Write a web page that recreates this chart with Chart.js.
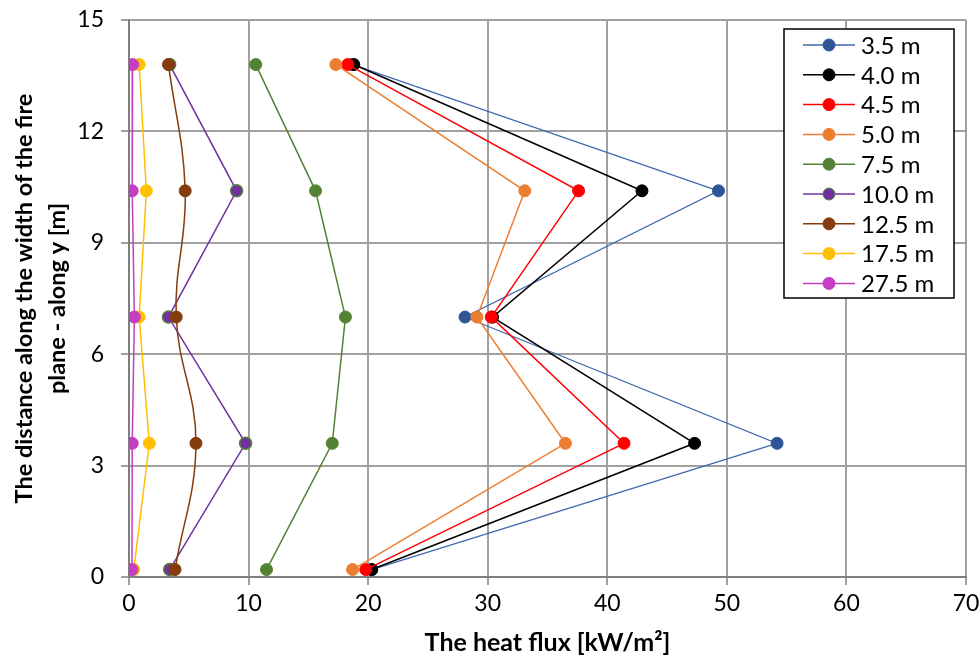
<!DOCTYPE html>
<html>
<head>
<meta charset="utf-8">
<script src="https://cdn.jsdelivr.net/npm/chart.js@4"></script>
<style>
  html, body { margin: 0; padding: 0; background: #fff; }
  #wrap { width: 980px; height: 662px; }
</style>
</head>
<body>
<div id="wrap"><canvas id="grafico" width="980" height="662"></canvas></div>
<script>
// heights along y [m] where the flux was sampled
const alturas = [13.8, 10.4, 7.0, 3.6, 0.2];

const nomes = ["3.5 m", "4.0 m", "4.5 m", "5.0 m", "7.5 m", "10.0 m", "12.5 m", "17.5 m", "27.5 m"];

// heat flux [kW/m2] for each distance
const fluxo35 = [18.7, 49.3, 28.1, 54.2, 20.3];
const fluxo40 = [18.8, 42.9, 30.4, 47.3, 20.3];
const fluxo45 = [18.3, 37.6, 30.3, 41.4, 19.8];
const fluxo50 = [17.3, 33.1, 29.1, 36.5, 18.7];
const fluxo75 = [10.6, 15.6, 18.1, 17.0, 11.5];
const fluxo100 = [3.4, 9.0, 3.3, 9.75, 3.4];
const fluxo125 = [3.3, 4.7, 3.95, 5.6, 3.85];
const fluxo175 = [0.85, 1.45, 0.85, 1.7, 0.4];
const fluxo275 = [0.3, 0.27, 0.45, 0.27, 0.25];

const xTicks = [0, 10, 20, 30, 40, 50, 60, 70];
const yTicks = [0, 3, 6, 9, 12, 15];

const series = [fluxo35, fluxo40, fluxo45, fluxo50, fluxo75, fluxo100, fluxo125, fluxo175, fluxo275];
const linhas = ["#4068AE", "#000000", "#FF0000", "#ED7D31", "#548235", "#7030A0", "#843C0C", "#FFC000", "#C43DC2"];
const pontos = ["#2F5597", "#000000", "#FF0000", "#ED7D31", "#548235", "#7030A0", "#843C0C", "#FFC000", "#C43DC2"];
const bordas = ["#2F5597", "#000000", "#FF0000", "#ED7D31", "#548235", "#548235", "#843C0C", "#FFC000", "#C43DC2"];

const fonte = "Lato, 'Liberation Sans', sans-serif";

const datasets = series.map((vals, i) => ({
  label: nomes[i],
  data: vals.map((v, k) => ({ x: v, y: alturas[k] })),
  showLine: true,
  borderColor: linhas[i],
  borderWidth: i === 0 ? 1.2 : 1.5,
  backgroundColor: pontos[i],
  pointBackgroundColor: pontos[i],
  pointBorderColor: bordas[i],
  pointBorderWidth: i === 5 ? 1.5 : 1,
  pointRadius: 6,
  tension: i === 6 ? 0.4 : 0,
  order: series.length - i
}));

// legend drawn inside the plot, like the original
const legendaCaixa = {
  id: "legendaCaixa",
  afterDraw(chart) {
    const ctx = chart.ctx;
    const a = chart.chartArea;
    const w = 170, h = 269;
    const x0 = a.right - 12 - w, y0 = a.top + 9;
    ctx.save();
    ctx.fillStyle = "#fff";
    ctx.fillRect(x0, y0, w, h);
    ctx.strokeStyle = "#000";
    ctx.lineWidth = 1.5;
    ctx.strokeRect(x0, y0, w, h);
    ctx.font = "24px " + fonte;
    ctx.textBaseline = "middle";
    chart.data.datasets.forEach((d, i) => {
      const yy = y0 + 16 + i * 29.8;
      ctx.strokeStyle = d.borderColor;
      ctx.lineWidth = 1.5;
      ctx.beginPath();
      ctx.moveTo(x0 + 19, yy);
      ctx.lineTo(x0 + 71, yy);
      ctx.stroke();
      ctx.beginPath();
      ctx.arc(x0 + 45, yy, 6, 0, Math.PI * 2);
      ctx.fillStyle = d.pointBackgroundColor;
      ctx.fill();
      ctx.lineWidth = 1;
      ctx.strokeStyle = d.pointBorderColor;
      ctx.stroke();
      ctx.fillStyle = "#000";
      ctx.fillText(d.label, x0 + 77, yy + 1);
    });
    ctx.restore();
  }
};

const ctx = document.getElementById("grafico");

new Chart(ctx, {
  type: "scatter",
  data: { datasets },
  options: {
    responsive: false,
    animation: false,
    layout: { padding: { top: 20, right: 14, left: 8, bottom: 0 } },
    plugins: {
      legend: { display: false },
      tooltip: { enabled: false }
    },
    scales: {
      x: {
        type: "linear",
        min: 0,
        max: 70,
        afterBuildTicks: (s) => { s.ticks = xTicks.map(v => ({ value: v })); },
        afterFit: (s) => { s.height = 85; s.paddingLeft = 0; s.paddingRight = 0; },
        grid: { color: "#A0A0A0", lineWidth: 2, tickLength: 8, tickColor: "#A0A0A0" },
        border: { color: "#7F7F7F", width: 2 },
        ticks: { color: "#000", font: { family: fonte, size: 23 }, padding: 5 },
        title: {
          display: true,
          text: "The heat flux [kW/m²]",
          color: "#000",
          font: { family: fonte, size: 25, weight: "bold" },
          padding: { top: 0, bottom: 4 }
        }
      },
      y: {
        type: "linear",
        min: 0,
        max: 15,
        afterBuildTicks: (s) => { s.ticks = yTicks.map(v => ({ value: v })); },
        afterFit: (s) => { s.width = 121; s.paddingTop = 0; s.paddingBottom = 0; },
        grid: { color: "#A0A0A0", lineWidth: 2, tickLength: 8, tickColor: "#A0A0A0" },
        border: { color: "#7F7F7F", width: 2 },
        ticks: { color: "#000", font: { family: fonte, size: 23 }, padding: 17 },
        title: {
          display: true,
          text: ["The distance along the width of the fire", "plane - along y [m]"],
          color: "#000",
          font: { family: fonte, size: 23.5, weight: "bold", lineHeight: 1.4 },
          padding: { top: 0, bottom: 0 }
        }
      }
    }
  },
  plugins: [legendaCaixa]
});
</script>
</body>
</html>
